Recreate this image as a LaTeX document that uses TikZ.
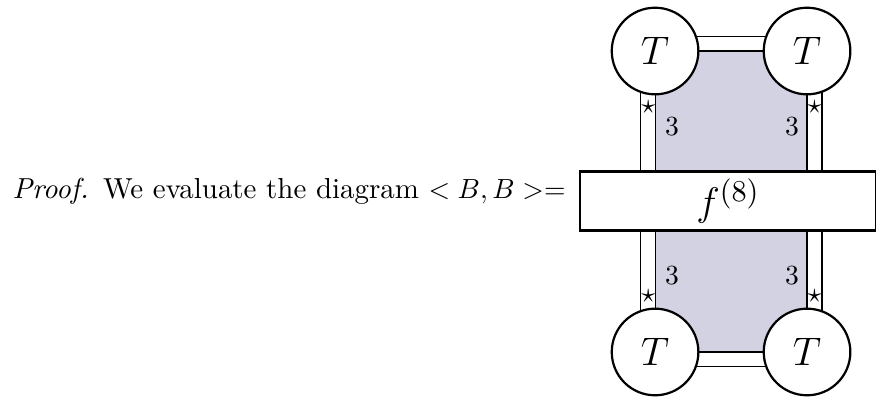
\documentclass[tikz,border=0pt]{standalone}
\usepackage{amsmath}
\usepackage{amssymb}
\usetikzlibrary{positioning, backgrounds, calc}
\definecolor{regionfill}{HTML}{D3D2E3}

\begin{document}
\begin{tikzpicture}[
    tensor/.style={circle, draw, thick, fill=white, minimum size=1.1cm, inner sep=0pt, font=\fontsize{15}{18}\selectfont},
    projector/.style={rectangle, draw, thick, fill=white, minimum width=3.77cm, minimum height=0.75cm, inner sep=0pt, font=\fontsize{15}{18}\selectfont},
    strand/.style={draw, line width=0.4pt},
    label3/.style={font=\fontsize{10.4}{12}\selectfont, inner sep=1pt},
]
    \useasboundingbox (0,0) rectangle (11.125,-5.067);
    \node[anchor=base west, inner sep=0pt, font=\fontsize{10.45}{12.5}\selectfont] (proof) at (0.152,-2.527) {\textit{Proof.}\enspace We evaluate the diagram $< B, B >=$};
    \node[projector] (f) at (9.246,-2.553) {$f^{(8)}$};
    \node[tensor] (tl) at (8.319,-0.648) {$T$};
    \node[tensor] (tr) at (10.249,-0.648) {$T$};
    \node[tensor] (bl) at (8.319,-4.470) {$T$};
    \node[tensor] (br) at (10.249,-4.470) {$T$};
    % labels on the strands
    \node[label3] (lab1) at ($(tl.center)+(0.215,-0.965)$) {$3$};
    \node[label3] (lab2) at ($(tr.center)+(-0.19,-0.965)$) {$3$};
    \node[label3] (lab3) at ($(bl.center)+(0.215,0.965)$) {$3$};
    \node[label3] (lab4) at ($(br.center)+(-0.19,0.965)$) {$3$};
    \node[inner sep=0pt] (s1) at ($(tl.center)+(-0.085,-0.711)$) {$\star$};
    \node[inner sep=0pt] (s2) at ($(tr.center)+(0.095,-0.711)$) {$\star$};
    \node[inner sep=0pt] (s3) at ($(bl.center)+(-0.085,0.711)$) {$\star$};
    \node[inner sep=0pt] (s4) at ($(br.center)+(0.095,0.711)$) {$\star$};
    \begin{scope}[on background layer]
        \fill[regionfill] (tl.center) rectangle (br.center);
        \draw[strand] (tl.center) -- (tr.center) -- (br.center) -- (bl.center) -- cycle;
        \draw[strand] ($(tl.center)+(-0.19,0.19)$) rectangle ($(br.center)+(0.19,-0.19)$);
    \end{scope}
\end{tikzpicture}
\end{document}
